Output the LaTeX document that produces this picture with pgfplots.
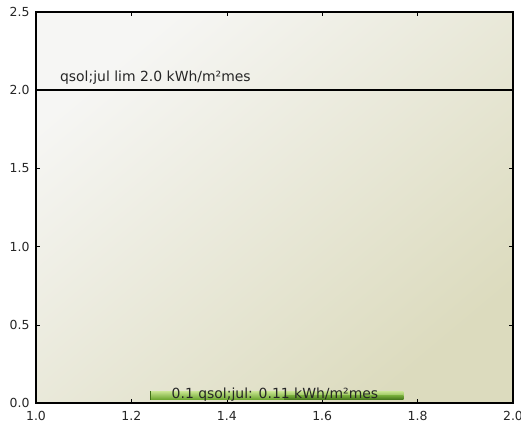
\documentclass[border=0pt]{standalone}
\usepackage{pgfplots}
\pgfplotsset{compat=1.18}
\usepackage{fontspec}
\setmainfont{DejaVu Sans}
\definecolor{bgTL}{HTML}{F6F6F4}
\definecolor{bgBR}{HTML}{DCDBBE}
\definecolor{gLight}{HTML}{C2E08A}
\definecolor{gDark}{HTML}{6FA832}
\definecolor{gDeep}{HTML}{3F6E18}
\definecolor{txt}{HTML}{262626}
\begin{document}
\begin{tikzpicture}
\path[use as bounding box] (-36bp,-23bp) rectangle (485bp,403bp);
\begin{axis}[
  at={(0,0)}, anchor=south west,
  scale only axis, width=477bp, height=391bp,
  xmin=1.0, xmax=2.0, ymin=0, ymax=2.5,
  xtick={1.0,1.2,1.4,1.6,1.8,2.0},
  ytick={0.0,0.5,1.0,1.5,2.0,2.5},
  tick align=inside,
  major tick length=4bp,
  axis line style={line width=1.1pt, black},
  every tick/.style={black, line width=0.6pt},
  tick label style={font=\fontsize{12.5}{14}\selectfont, text=txt},
  /pgf/number format/assume math mode=true,
  /pgf/number format/fixed, /pgf/number format/fixed zerofill, /pgf/number format/precision=1,
  xticklabel style={yshift=-5bp},
  yticklabel style={xshift=-3bp},
  axis background/.style={top color=bgTL, bottom color=bgBR, shading angle=40},
  clip=false,
]
% limit line
\addplot[black, line width=2.2bp] coordinates {(1.0,2.0) (2.0,2.0)};
\node[anchor=base west, font=\fontsize{14}{16}\selectfont, text=txt, inner sep=0pt] at (axis cs:1.050,2.057) {qsol;jul lim 2.0 kWh/m²mes};
% green bar
\addplot[draw=none, top color=gLight, bottom color=gDark] coordinates {(1.24,0.025) (1.77,0.025) (1.77,0.072) (1.24,0.072)} -- cycle;
\addplot[draw=none, top color=gDark, bottom color=gDeep, opacity=0.8] coordinates {(1.52,0.025) (1.77,0.025) (1.77,0.05) (1.52,0.05)} -- cycle;
\addplot[gDeep, line width=0.8pt] coordinates {(1.24,0.02) (1.24,0.075)};
\node[anchor=base, font=\fontsize{14}{16}\selectfont, text=black!85, inner sep=0pt] at (axis cs:1.501,0.028) {0.1 qsol;jul: 0.11 kWh/m²mes};
\end{axis}
\end{tikzpicture}
\end{document}
